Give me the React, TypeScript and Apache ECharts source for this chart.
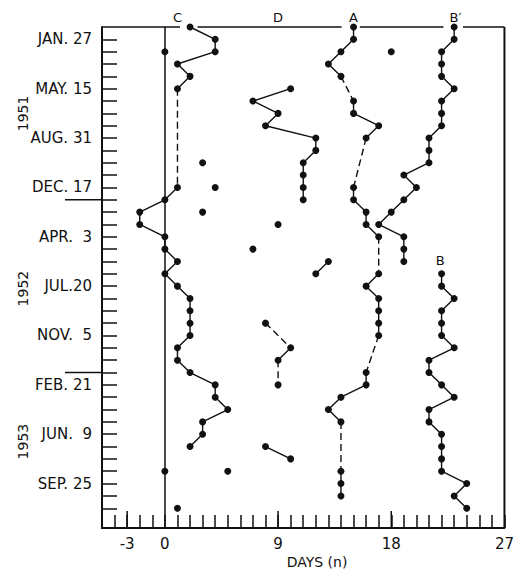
import React, { useEffect, useRef } from "react";
import * as echarts from "echarts";

// Row index: one row per tick (27 days); row 0 = JAN. 27, 1951. Rows of each curve start at the given index.
const yTickLabels = ["JAN. 27", "MAY. 15", "AUG. 31", "DEC. 17", "APR.  3", "JUL.20", "NOV.  5", "FEB. 21", "JUN.  9", "SEP. 25"];
const xTickLabels = [-3, 0, 9, 18, 27];
const xMajorTicks = [-3, 9, 18];
const yearLabels = [["1951", 6], ["1952", 20.2], ["1953", 32.6]] as const;
const yearBreakRows = [13, 27];

const cStart = -1;
const curveC = [2, 4, 4, 1, 2, 1, null, null, null, null, null, null, null, 1, 0, -2, -2, 0, 0, 1, 0, 1, 2, 2, 2, 2, 1, 1, 2, 4, 4, 5, 3, 3, 2];
const cDashed = [[4, 12]];

const dStart = 4;
const curveD = [10, 7, 9, 8, 12, 12, 11, 11, 11, 11, null, null, null, null, 13, 12, null, null, null, 8, null, 10, 9, null, 9, null, null, null, null, 8, 10];
const dDashed = [[23, 25], [26, 28]];

const aStart = -1;
const curveA = [15, 15, 14, 13, 14, null, 15, 15, 17, 16, null, null, null, 15, 15, 16, 16, 17, null, null, 17, 16, 17, 17, 17, 17, null, null, 16, 16, 14, 13, 14, null, null, null, 14, 14, 14];
const aDashed = [[3, 5], [8, 12], [16, 19], [24, 27], [31, 35]];

const bPrimeStart = -1;
const curveBPrime = [23, 23, 22, 22, 22, 23, 22, 22, 22, 21, 21, 21, 19, 20, 19, 18, 17, 19, 19, 19];

const bStart = 19;
const curveB = [22, 22, 23, 22, 22, 22, 23, 21, 21, 22, 23, 21, 21, 22, 22, 22, 22, 24, 23, 24];

// isolated observations [days, row]
const isolated = [[0, 1], [18, 1], [3, 10], [4, 12], [3, 14], [9, 15], [7, 17], [0, 35], [5, 35], [1, 38]];

// curve letters [text, days, row]
const curveLetters = [["C", 1, -1.8], ["D", 9, -1.8], ["A", 15, -1.8], ["B\u2032", 23.1, -1.8], ["B", 21.9, 17.9]] as const;

const FONT = '"DejaVu Sans", "Liberation Sans", sans-serif';
const INK = "#111";

function toPoints(start: number, values: (number | null)[]) {
  return values.map((v, i) => (v == null ? ["-", start + i] : [v, start + i]));
}
function toBridges(start: number, values: (number | null)[], pairs: number[][]) {
  const out: any[] = [];
  pairs.forEach(([a, b]) => {
    out.push([values[a - start], a], [values[b - start], b], ["-", "-"]);
  });
  return out;
}

const X_MIN = -5, X_MAX = 27, Y_MIN = -1, Y_MAX = 39.6;

function solidSeries(name: string, start: number, values: (number | null)[]) {
  return {
    name,
    type: "line",
    data: toPoints(start, values),
    connectNulls: false,
    symbol: "circle",
    symbolSize: 7,
    showSymbol: true,
    itemStyle: { color: INK, opacity: 1 },
    lineStyle: { color: INK, width: 1.4 },
    emphasis: { disabled: true },
    z: 3,
  };
}
function dashedSeries(name: string, start: number, values: (number | null)[], pairs: number[][]) {
  return {
    name,
    type: "line",
    data: toBridges(start, values, pairs),
    connectNulls: false,
    symbol: "none",
    lineStyle: { color: INK, width: 1.4, type: [7, 4] },
    emphasis: { disabled: true },
    z: 2,
  };
}

export default function App() {
  const ref = useRef<HTMLDivElement>(null);
  useEffect(() => {
    const chart = echarts.init(ref.current!, null, { renderer: "svg" });
    const yTicks: number[] = [];
    for (let i = 0; i <= 38; i++) yTicks.push(i);
    chart.setOption({
      animation: false,
      backgroundColor: "#fff",
      grid: { left: 102, top: 27, width: 408, height: 501, show: false },
      xAxis: {
        type: "value",
        min: X_MIN,
        max: X_MAX,
        interval: 1,
        axisLine: { show: true, onZero: false, lineStyle: { color: INK, width: 2 } },
        axisTick: { show: true, inside: true, length: 13, lineStyle: { color: INK, width: 1.5 } },
        axisLabel: {
          show: true,
          formatter: (v: number) => (xTickLabels.indexOf(v) >= 0 ? String(v) : ""),
          color: INK,
          fontFamily: FONT,
          fontSize: 15,
          margin: 8,
          showMinLabel: true,
          showMaxLabel: true,
          hideOverlap: false,
          interval: 0,
        },
        splitLine: { show: false },
      },
      yAxis: {
        type: "value",
        inverse: true,
        min: Y_MIN,
        max: Y_MAX,
        interval: 1,
        axisLine: { show: true, onZero: false, lineStyle: { color: INK, width: 2 } },
        axisTick: { show: true, inside: true, length: 15, customValues: yTicks, lineStyle: { color: INK, width: 1.5 } },
        axisLabel: {
          show: true,
          formatter: (v: number) => (v >= 0 && v % 4 === 0 && v / 4 < yTickLabels.length ? yTickLabels[v / 4] : ""),
          color: INK,
          fontFamily: FONT,
          fontSize: 15,
          margin: 10,
          showMinLabel: false,
          showMaxLabel: false,
          hideOverlap: false,
        },
        splitLine: { show: false },
      },
      series: [
        solidSeries("C", cStart, curveC),
        dashedSeries("C-gap", cStart, curveC, cDashed),
        solidSeries("D", dStart, curveD),
        dashedSeries("D-gap", dStart, curveD, dDashed),
        solidSeries("A", aStart, curveA),
        dashedSeries("A-gap", aStart, curveA, aDashed),
        solidSeries("B'", bPrimeStart, curveBPrime),
        solidSeries("B", bStart, curveB),
        {
          name: "isolated",
          type: "scatter",
          data: isolated,
          symbol: "circle",
          symbolSize: 7,
          itemStyle: { color: INK, opacity: 1 },
          emphasis: { disabled: true },
          z: 3,
          markLine: {
            silent: true,
            symbol: "none",
            label: { show: false },
            lineStyle: { color: INK, width: 1.5, type: "solid" },
            data: [{ xAxis: 0 }],
          },
        },
      ],
    });

    const px = (x: number, y: number) => chart.convertToPixel({ gridIndex: 0 }, [x, y]) as number[];
    const graphics: any[] = [];
    const lineEl = (p1: number[], p2: number[], w = 2) => ({
      type: "line",
      shape: { x1: p1[0], y1: p1[1], x2: p2[0], y2: p2[1] },
      style: { stroke: INK, lineWidth: w },
      silent: true,
    });
    // top border with gaps around the top points
    const topGaps = [[1.2, 2.6], [14.05, 15.5], [22.15, 23.7]];
    let from = X_MIN;
    topGaps.forEach(([g0, g1]) => {
      graphics.push(lineEl(px(from, Y_MIN), px(g0, Y_MIN), 1.5));
      from = g1;
    });
    graphics.push(lineEl(px(from, Y_MIN), px(X_MAX, Y_MIN), 1.5));
    // right border
    graphics.push(lineEl(px(X_MAX, Y_MIN), px(X_MAX, Y_MAX), 2));
    // longer major ticks on the x axis
    xMajorTicks.forEach((v) => {
      const p = px(v, Y_MAX);
      graphics.push(lineEl(p, [p[0], p[1] - 17], 1.5));
    });
    // year break lines
    yearBreakRows.forEach((r) => {
      const p = px(X_MIN, r);
      graphics.push(lineEl([p[0] - 37, p[1]], p, 1.5));
    });
    // year labels
    yearLabels.forEach(([t, r]) => {
      const p = px(X_MIN, r);
      graphics.push({
        type: "text",
        x: 23,
        y: p[1],
        rotation: Math.PI / 2,
        style: { text: t, fill: INK, font: `14px ${FONT}`, align: "center", verticalAlign: "middle", textAlign: "center", textVerticalAlign: "middle" },
        silent: true,
      });
    });
    // curve letters
    curveLetters.forEach(([t, x, r]) => {
      const p = px(x, r);
      graphics.push({
        type: "text",
        x: p[0],
        y: p[1],
        style: { text: t, fill: INK, font: `13px ${FONT}`, align: "center", verticalAlign: "middle", textAlign: "center", textVerticalAlign: "middle" },
        silent: true,
      });
    });
    // axis title
    const tp = px(12.1, Y_MAX);
    graphics.push({
      type: "text",
      x: tp[0],
      y: tp[1] + 34,
      style: { text: "DAYS (n)", fill: INK, font: `14px ${FONT}`, align: "center", verticalAlign: "middle", textAlign: "center", textVerticalAlign: "middle" },
      silent: true,
    });
    chart.setOption({ graphic: graphics });
    return () => chart.dispose();
  }, []);
  return <div ref={ref} style={{ position: "absolute", left: 0, top: 0, width: 517, height: 571, background: "#fff" }} />;
}
